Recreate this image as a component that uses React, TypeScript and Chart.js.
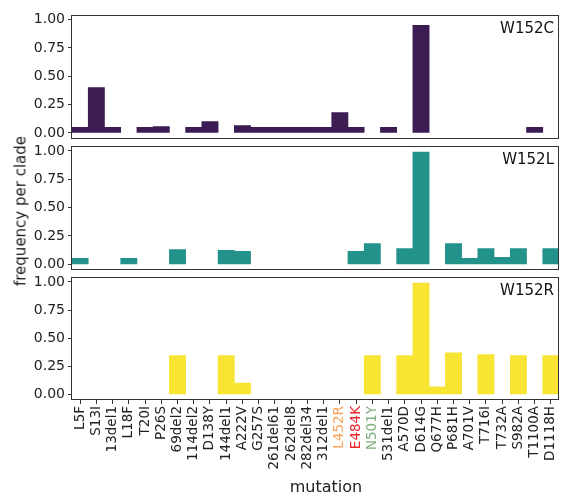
import React, { useEffect, useRef } from "react";
import { Chart, registerables } from "chart.js";

Chart.register(...registerables);

const categories = [
  "L5F", "S13I", "13del1", "L18F", "T20I", "P26S", "69del2", "114del2", "D138Y", "144del1",
  "A222V", "G257S", "261del61", "262del8", "282del34", "312del1", "L452R", "E484K", "N501Y", "531del1",
  "A570D", "D614G", "Q677H", "P681H", "A701V", "T716I", "T732A", "S982A", "T1100A", "D1118H",
];

const valuesW152C = [
  0.05, 0.40, 0.05, 0, 0.05, 0.055, 0, 0.05, 0.10, 0,
  0.065, 0.05, 0.05, 0.05, 0.05, 0.05, 0.18, 0.05, 0, 0.05,
  0, 0.95, 0, 0, 0, 0, 0, 0, 0.05, 0,
];

const valuesW152L = [
  0.053, 0, 0, 0.053, 0, 0, 0.13, 0, 0, 0.123,
  0.114, 0, 0, 0, 0, 0, 0, 0.114, 0.184, 0,
  0.14, 0.99, 0, 0.184, 0.053, 0.14, 0.061, 0.14, 0, 0.14,
];

const valuesW152R = [
  0, 0, 0, 0, 0, 0, 0.345, 0, 0, 0.345,
  0.10, 0, 0, 0, 0, 0, 0, 0, 0.345, 0,
  0.345, 0.99, 0.067, 0.37, 0, 0.353, 0, 0.345, 0, 0.345,
];

const panelNames = ["W152C", "W152L", "W152R"];
const yTicks = [0, 0.25, 0.5, 0.75, 1];
const highlightLabels: Record<string, string> = {
  L452R: "#f9a45c",
  E484K: "#e8262b",
  N501Y: "#7fb07f",
};

const FONT = '"DejaVu Sans", sans-serif';

const framePlugin = {
  id: "panelFrame",
  afterDraw(chart: any, _args: any, opts: any) {
    const { ctx, chartArea } = chart;
    const { left, top, right, bottom } = chartArea;
    ctx.save();
    ctx.strokeStyle = "#333333";
    ctx.lineWidth = 1;
    ctx.strokeRect(Math.round(left) - 0.5, Math.round(top) + 0.5, Math.round(right - left), Math.round(bottom - top) - 1);
    if (opts && opts.text) {
      ctx.fillStyle = "#111111";
      ctx.font = `15px ${FONT}`;
      ctx.textAlign = "right";
      ctx.textBaseline = "alphabetic";
      ctx.fillText(opts.text, right - 5, top + 18);
    }
    ctx.restore();
  },
};

function buildConfig(values: number[], color: string, label: string, showX: boolean, padding: any) {
  const xScale: any = {
    display: showX,
    offset: true,
    grid: {
      offset: false,
      drawOnChartArea: false,
      drawTicks: true,
      tickLength: 4,
      color: "#333333",
    },
    border: { display: false },
    ticks: {
      autoSkip: false,
      maxRotation: 90,
      minRotation: 90,
      padding: 2,
      font: { family: FONT, size: 13.5 },
      color: (ctx: any) => highlightLabels[categories[ctx.index]] || "#222222",
    },
  };
  if (showX) {
    xScale.afterFit = (s: any) => {
      s.height = 100;
      s.paddingLeft = 0;
      s.paddingRight = 0;
    };
  }
  return {
    type: "bar" as const,
    data: {
      labels: categories,
      datasets: [
        {
          data: values.map((v) => (v === 0 ? null : v)),
          backgroundColor: color,
          borderWidth: 0,
          barPercentage: 1,
          categoryPercentage: 1,
        },
      ],
    },
    options: {
      responsive: false,
      animation: false as const,
      devicePixelRatio: 1,
      layout: { padding },
      plugins: {
        legend: { display: false },
        tooltip: { enabled: false },
        panelFrame: { text: label },
      },
      scales: {
        x: xScale,
        y: {
          min: -0.05,
          max: 1.04,
          afterBuildTicks: (s: any) => {
            s.ticks = yTicks.map((v) => ({ value: v }));
          },
          afterFit: (s: any) => {
            s.width = 72;
          },
          grid: {
            drawOnChartArea: false,
            drawTicks: true,
            tickLength: 4,
            color: "#333333",
          },
          border: { display: false },
          ticks: {
            padding: 3,
            font: { family: FONT, size: 14 },
            color: "#222222",
            callback: (v: any) => Number(v).toFixed(2),
          },
        },
      },
    },
    plugins: [framePlugin],
  };
}

export default function App() {
  const c1 = useRef<HTMLCanvasElement>(null);
  const c2 = useRef<HTMLCanvasElement>(null);
  const c3 = useRef<HTMLCanvasElement>(null);

  useEffect(() => {
    const charts: Chart[] = [];
    if (c1.current)
      charts.push(new Chart(c1.current, buildConfig(valuesW152C, "#3b1c53", panelNames[0], false, { top: 15, bottom: 11, left: 0, right: 4 }) as any));
    if (c2.current)
      charts.push(new Chart(c2.current, buildConfig(valuesW152L, "#22928b", panelNames[1], false, { top: 10, bottom: 15, left: 0, right: 4 }) as any));
    if (c3.current)
      charts.push(new Chart(c3.current, buildConfig(valuesW152R, "#f8e433", panelNames[2], true, { top: 10, bottom: 0, left: 0, right: 4 }) as any));
    return () => charts.forEach((c) => c.destroy());
  }, []);

  const canvasStyle = (top: number): React.CSSProperties => ({ position: "absolute", left: 0, top });

  return (
    <div style={{ position: "absolute", left: 0, top: 0, width: 563, height: 500, background: "#ffffff", fontFamily: FONT }}>
      <canvas ref={c1} width={563} height={150} style={canvasStyle(0)} />
      <canvas ref={c2} width={563} height={150} style={canvasStyle(135)} />
      <canvas ref={c3} width={563} height={234} style={canvasStyle(266)} />
      <div
        style={{
          position: "absolute",
          left: 21,
          top: 211,
          transform: "translate(-50%, -50%) rotate(-90deg)",
          whiteSpace: "nowrap",
          fontSize: 15,
          lineHeight: 1,
          color: "#222222",
        }}
      >
        frequency per clade
      </div>
      <div
        style={{
          position: "absolute",
          left: 326,
          top: 479,
          transform: "translateX(-50%)",
          whiteSpace: "nowrap",
          fontSize: 16,
          lineHeight: 1,
          color: "#222222",
        }}
      >
        mutation
      </div>
    </div>
  );
}
